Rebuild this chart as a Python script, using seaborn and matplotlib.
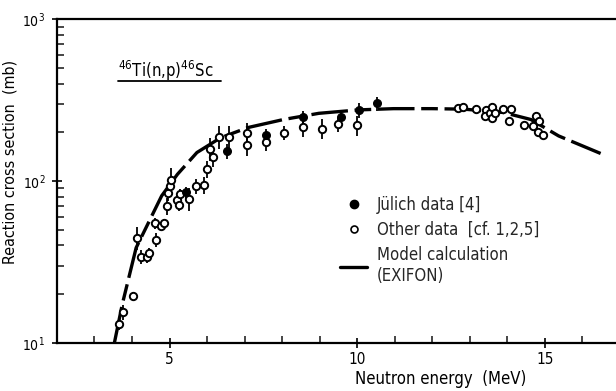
import numpy as np
import pandas as pd
import matplotlib
matplotlib.use("Agg")
import matplotlib.pyplot as plt
import seaborn as sns
from matplotlib.lines import Line2D
from matplotlib.ticker import LogLocator, MultipleLocator, FixedLocator

# ---------------- data ----------------
other_E = [3.64, 3.76, 4.02, 4.12, 4.24, 4.39, 4.46, 4.61, 4.63, 4.77, 4.86, 4.94, 4.95,
           5.00, 5.03, 5.21, 5.26, 5.29, 5.52, 5.70, 5.91, 5.99, 6.07, 6.15, 6.31, 6.59,
           7.07, 7.07, 7.57, 8.06, 8.56, 9.06, 9.50, 10.00,
           12.68, 12.81, 13.17, 13.43, 13.40, 13.53, 13.59, 13.59, 13.67, 13.90, 14.04,
           14.11, 14.46, 14.69, 14.76, 14.84, 14.81, 14.95]
other_sigma = [13.0, 15.5, 19.6, 44.6, 34, 34, 35.7, 55, 43.5, 53, 55, 70, 84,
               93, 101, 76, 71, 83, 78, 93, 94, 119, 158, 141, 188, 188,
               199, 166, 175, 199, 217, 211, 224, 222,
               284, 287, 280, 276, 253, 265, 287, 246, 263, 280, 235,
               280, 221, 219, 253, 235, 201, 192]
other_relerr = [0.08, 0.10, 0.06, 0.16, 0.10, 0.08, 0.08, 0.08, 0.10, 0.06, 0.06, 0.12, 0.10,
                0.12, 0.20, 0.08, 0.08, 0.08, 0.16, 0.10, 0.12, 0.12, 0.16, 0.14, 0.16, 0.16,
                0.14, 0.14, 0.12, 0.10, 0.14, 0.14, 0.10, 0.14,
                0.05, 0.05, 0.05, 0.05, 0.05, 0.05, 0.05, 0.05, 0.05, 0.05, 0.05,
                0.05, 0.05, 0.05, 0.05, 0.05, 0.05, 0.05]

julich_E = [5.45, 6.53, 7.58, 8.57, 9.57, 10.05, 10.53]
julich_sigma = [85, 153, 193, 247, 249, 274, 302]
julich_relerr = [0.08, 0.10, 0.08, 0.10, 0.10, 0.10, 0.10]

model_E = [3.53, 3.74, 4.11, 4.79, 5.21, 5.73, 6.36, 7.09, 8.04, 8.98, 10.03, 10.97,
           12.0, 12.85, 13.9, 14.63, 15.37, 16.49]
model_sigma = [10, 17.3, 38.7, 81, 110, 150, 185, 214, 240, 262, 275, 280,
               280, 278, 265, 240, 190, 148]

x_ticks = [5, 10, 15]
x_ticklabels = ["5", "10", "15"]
title_text = r"$^{46}$Ti(n,p)$^{46}$Sc"
legend_labels = ["Jülich data [4]", "Other data  [cf. 1,2,5]", "Model calculation\n(EXIFON)"]

# ---------------- style ----------------
sns.set_theme(style="ticks")
plt.rcParams["font.family"] = ["DejaVu Sans"]
plt.rcParams["font.stretch"] = "condensed"
plt.rcParams["mathtext.default"] = "regular"

other = pd.DataFrame({"E": other_E, "sigma": other_sigma, "rel": other_relerr})
jul = pd.DataFrame({"E": julich_E, "sigma": julich_sigma, "rel": julich_relerr})
model = pd.DataFrame({"E": model_E, "sigma": model_sigma})

fig = plt.figure(figsize=(6.16, 3.91), dpi=100)
ax = fig.add_axes([0.0925, 0.123, 0.9075, 0.828])

sns.lineplot(data=model, x="E", y="sigma", ax=ax, color="black", lw=2.4,
             dashes=False, zorder=2)
ln = ax.get_lines()[-1]
ln.set_dashes((11, 2, 5, 2))
ln.set_solid_capstyle("butt")

ax.errorbar(other["E"], other["sigma"], yerr=other["sigma"] * other["rel"],
            fmt="none", ecolor="black", elinewidth=1.3, capsize=0, zorder=3)
ax.errorbar(jul["E"], jul["sigma"], yerr=jul["sigma"] * jul["rel"],
            fmt="none", ecolor="black", elinewidth=1.3, capsize=0, zorder=3)

sns.scatterplot(data=other, x="E", y="sigma", ax=ax, marker="o", s=28,
                facecolor="white", edgecolor="black", linewidth=1.4, zorder=4)
sns.scatterplot(data=jul, x="E", y="sigma", ax=ax, marker="o", s=30,
                color="black", edgecolor="black", linewidth=1.0, zorder=5)

ax.set_yscale("log")
ax.set_xlim(2.0, 16.9)
ax.set_ylim(10, 1000)

ax.xaxis.set_major_locator(FixedLocator(x_ticks))
ax.set_xticklabels(x_ticklabels)
ax.xaxis.set_minor_locator(MultipleLocator(1))
ax.yaxis.set_major_locator(LogLocator(base=10, numticks=5))
ax.yaxis.set_minor_locator(LogLocator(base=10, subs=np.arange(2, 10), numticks=20))

ax.tick_params(axis="both", which="major", direction="inout", length=7, width=1.2,
               labelsize=11, colors="black", pad=3)
ax.tick_params(axis="x", which="minor", direction="in", length=5, width=1.2)
ax.tick_params(axis="y", which="minor", direction="in", length=5, width=1.2)
ax.tick_params(axis="y", which="major", pad=5, labelsize=10)

for s in ["left", "bottom", "top"]:
    ax.spines[s].set_linewidth(1.6)
    ax.spines[s].set_color("black")
ax.spines["right"].set_visible(False)

ax.set_xlabel("Neutron energy  (MeV)", fontsize=12, color="black")
ax.xaxis.set_label_coords(0.687, -0.085)
ax.set_ylabel("Reaction cross section  (mb)", fontsize=11.5, color="black")
ax.yaxis.set_label_coords(-0.07, 0.56)

ax.text(0.109, 0.84, title_text, transform=ax.transAxes, fontsize=12,
        ha="left", va="center", color="black")
ax.plot([0.109, 0.293], [0.808, 0.808], transform=ax.transAxes, color="black", lw=1.3)

handles = [
    Line2D([], [], marker="o", ls="none", color="black", markersize=6),
    Line2D([], [], marker="o", ls="none", markerfacecolor="white",
           markeredgecolor="black", markeredgewidth=1.2, markersize=5),
    Line2D([], [], color="black", lw=2.4),
]
leg = ax.legend(handles, legend_labels, loc="upper left", bbox_to_anchor=(0.48, 0.50),
                frameon=False, fontsize=12, handlelength=1.6, handletextpad=0.6,
                labelspacing=0.42)

fig.savefig("out.png", dpi=100, facecolor="white")
